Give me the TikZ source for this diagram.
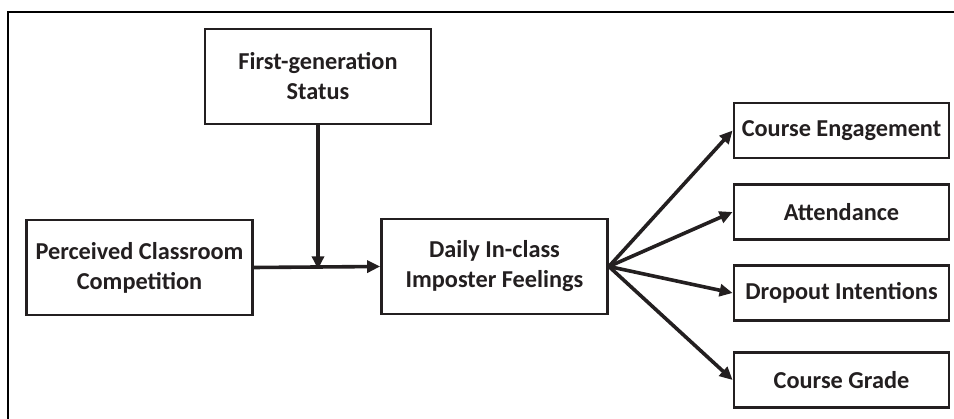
\documentclass[tikz,border=0pt]{standalone}
\usepackage{fontspec}
\setmainfont{Carlito}
\usetikzlibrary{arrows.meta}
\definecolor{ink}{HTML}{231F20}
\begin{document}
\begin{tikzpicture}[x=1pt,y=-1pt,
  box/.style={draw=ink,line width=2.8pt,fill=white,inner sep=0pt,align=center,
    font=\fontsize{24.3}{30}\selectfont\bfseries,text=ink},
  bigbox/.style={box,minimum width=226pt,minimum height=95pt},
  outbox/.style={box,minimum width=215pt,minimum height=55pt},
  conn/.style={draw=ink,line width=3.6pt,-{Triangle[length=13pt,width=12pt]}}]
\useasboundingbox (0,0) rectangle (954,419);
\clip (0,0) rectangle (954,419);
\draw[line width=2.6pt,black] (8,12) rectangle (970,440);
\node[bigbox] (fg) at (318,76.5) {First-generation\\Status};
\node[bigbox] (pc) at (139.5,267.5) {Perceived Classroom\\Competition};
\node[bigbox] (di) at (494.5,266.5) {Daily In-class\\Imposter Feelings};
\node[outbox] (ce) at (841.5,130.5) {Course Engagement};
\node[outbox] (at) at (841.5,212) {Attendance};
\node[outbox] (dr) at (841.5,293) {Dropout Intentions};
\node[outbox] (cg) at (841.5,380) {Course Grade};
\coordinate (src) at (di.east);
\coordinate (mid) at (fg.south |- pc.east);
\draw[conn] (pc.east) -- (di.west);
\draw[conn] (fg.south) -- ([yshift=-1.8pt]mid);
\draw[conn] (src) -- (ce.west);
\draw[conn] (src) -- (at.west);
\draw[conn] (src) -- (dr.west);
\draw[conn] (src) -- (cg.west);
\end{tikzpicture}
\end{document}
